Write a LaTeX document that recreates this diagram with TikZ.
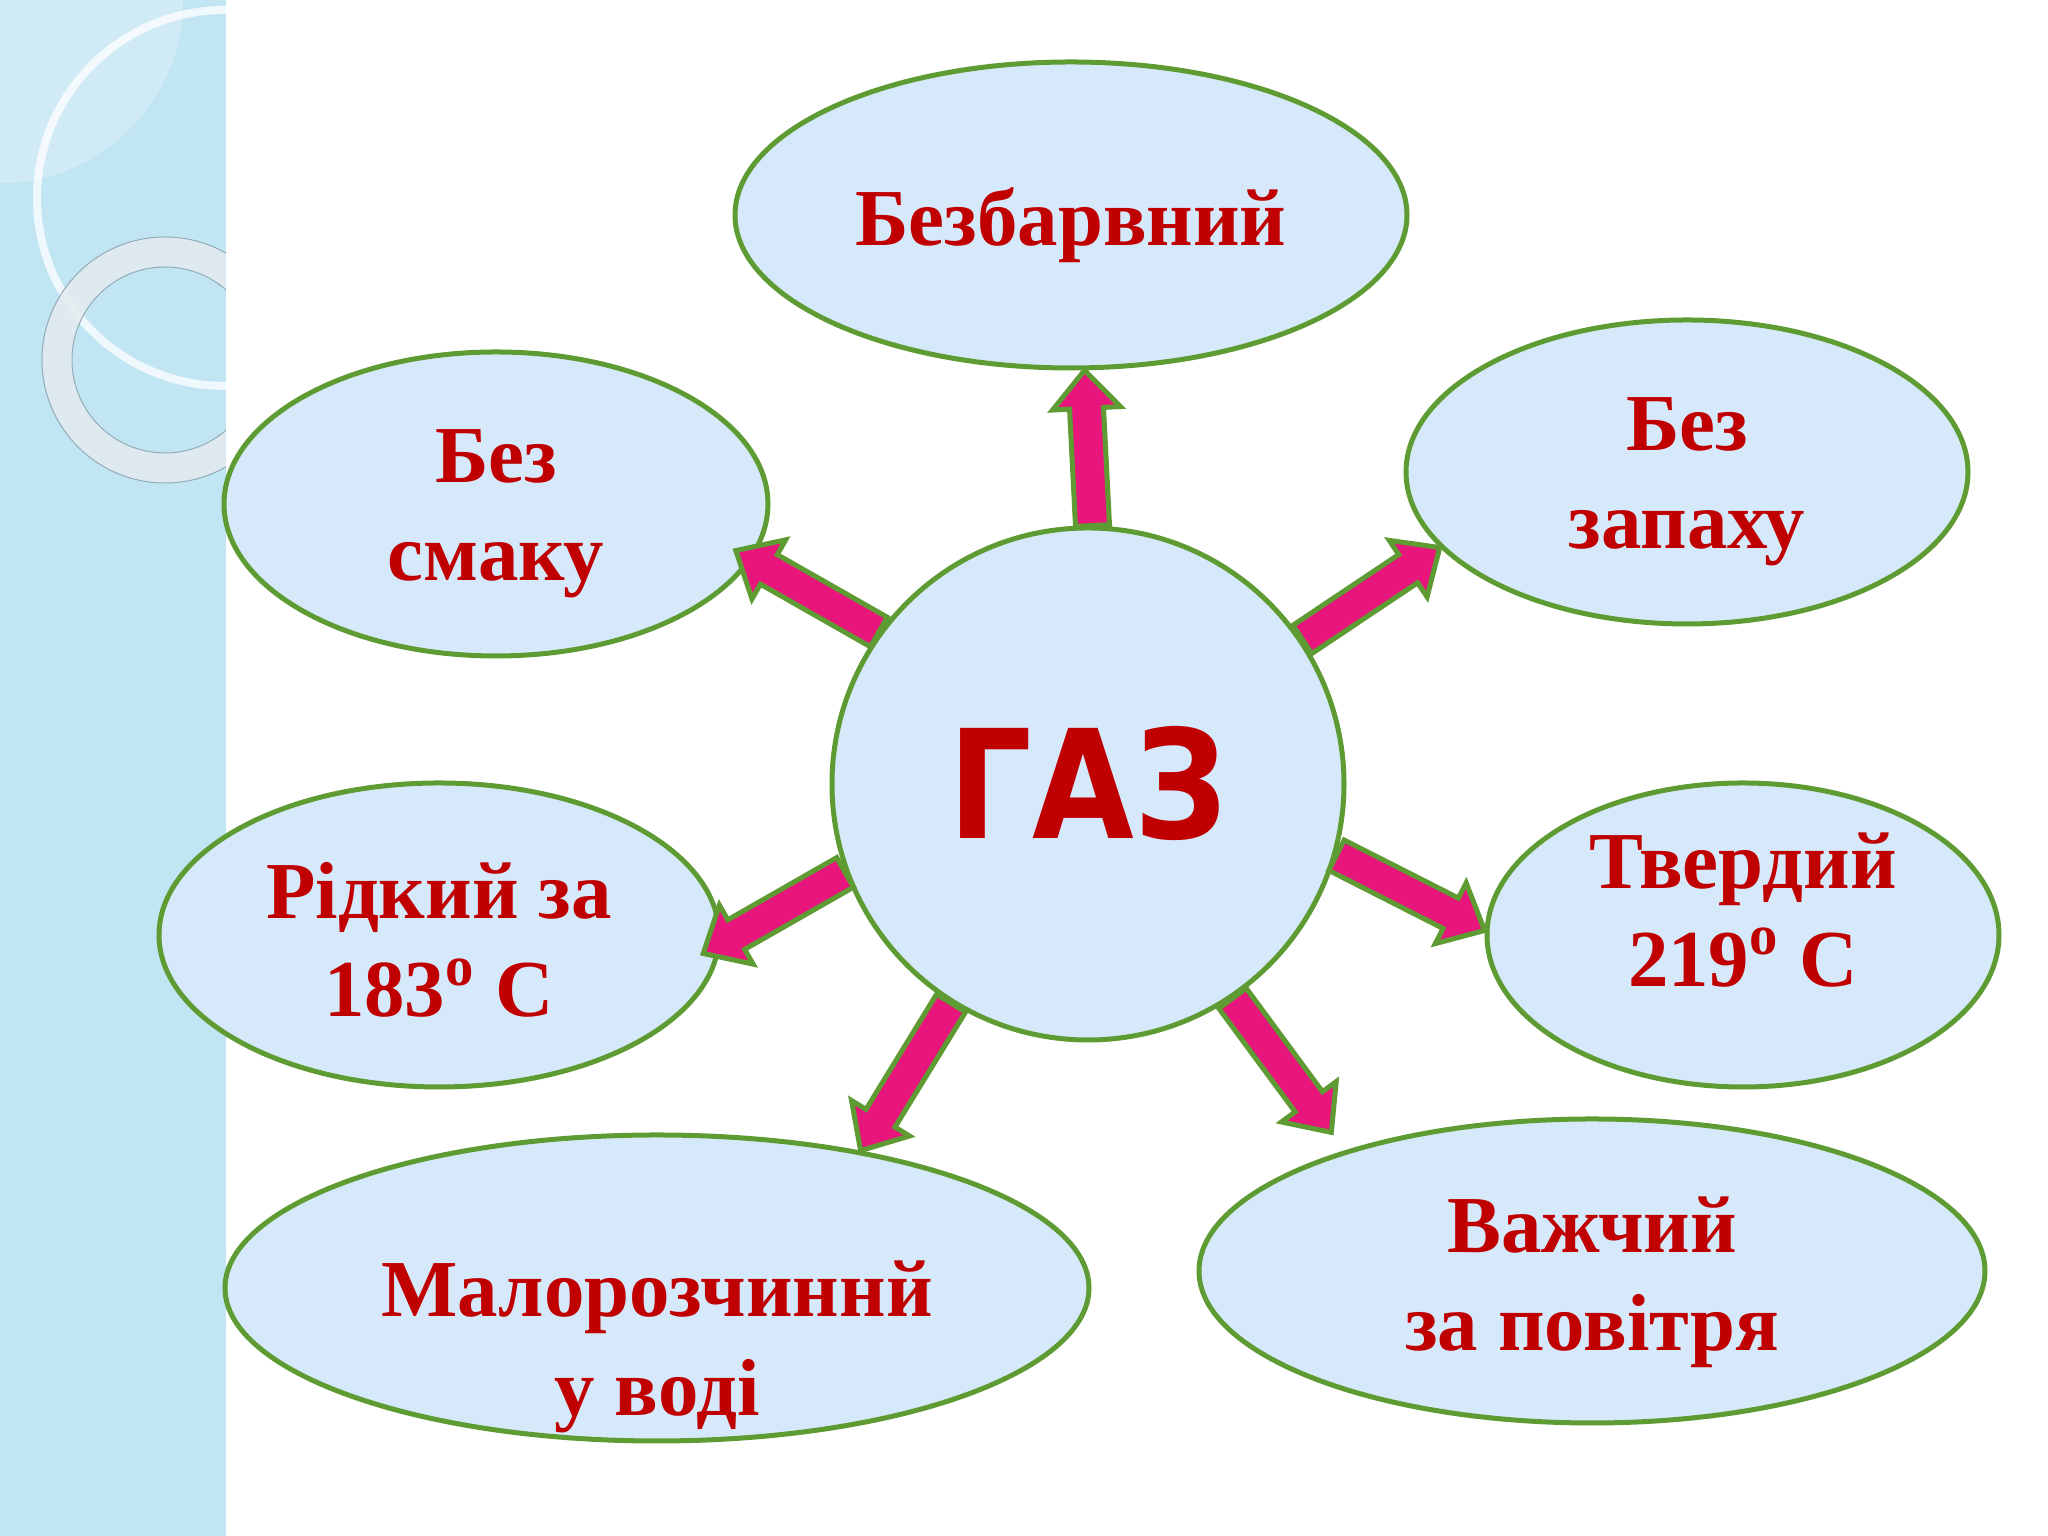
\documentclass[tikz,border=0pt]{standalone}
\usepackage{fontspec}
\setmainfont{Liberation Serif}
\newfontfamily\gasfont[FakeStretch=0.87]{DejaVu Sans}
\usepackage{tikz}
\usetikzlibrary{shapes.geometric,calc}
\definecolor{ovalfill}{HTML}{D6E9FA}
\definecolor{ovalline}{HTML}{5E9B32}
\definecolor{textred}{HTML}{C00000}
\definecolor{arrowpink}{HTML}{E8167C}
\definecolor{panelblue}{HTML}{C2E5F4}
\definecolor{ringgray}{HTML}{E4ECF0}
\tikzset{
    prop-text/.style = {align=center, text=textred, font=\fontsize{23}{28}\selectfont\bfseries},
    prop-oval/.style = {draw=ovalline, fill=ovalfill, line width=0.05cm, ellipse, inner sep=0pt},
    gas-circle/.style = {draw=ovalline, fill=ovalfill, line width=0.05cm, circle, inner sep=0pt, minimum size=5.12cm, text=textred, font=\gasfont\bfseries\fontsize{43}{50}\selectfont},
    prop-arrow/.style = {draw=ovalline, fill=arrowpink, line width=0.05cm, line join=miter},
}
\newcommand{\shaftw}{0.17cm}
\newcommand{\headw}{0.34cm}
\newcommand{\headlen}{0.38cm}
\newcommand{\gasarrow}[2]{%
    \coordinate (s) at (#1);
    \coordinate (e) at (#2);
    \coordinate (b) at ($(e)!\headlen!(s)$);
    \draw[prop-arrow] ($(s)!\shaftw!-90:(e)$) -- ($(b)!\shaftw!-90:(e)$) -- ($(b)!\headw!-90:(e)$) -- (e)
        -- ($(b)!\headw!90:(e)$) -- ($(b)!\shaftw!90:(e)$) -- ($(s)!\shaftw!90:(e)$) -- cycle;
}

\begin{document}
\begin{tikzpicture}
\useasboundingbox (0,0) rectangle (20.48,15.36);
\fill[white] (0,0) rectangle (20.48,15.36);

% side panel
\begin{scope}
    \clip (0,0) rectangle (2.26,15.36);
    \fill[panelblue] (0,0) rectangle (2.26,15.36);
    \fill[white, opacity=0.25] (0,15.36) -- (1.83,15.36) arc[start angle=0, end angle=-90, radius=1.83] -- cycle;
    \draw[white, opacity=0.75, line width=0.08cm] (2.25,13.38) circle[radius=1.88];
    \draw[ringgray, opacity=0.85, line width=0.30cm] (1.65,11.76) circle[radius=1.08];
    \draw[black!25!panelblue, line width=0.01cm] (1.65,11.76) circle[radius=0.93];
    \draw[black!25!panelblue, line width=0.01cm] (1.65,11.76) circle[radius=1.23];
\end{scope}

\node[gas-circle] (gas) at (10.88,7.52) {ГАЗ};
\node[prop-oval, minimum width=6.72cm, minimum height=3.06cm,
      label={[prop-text, yshift=-0.10cm]center:{Безбарвний}}] (colour) at (10.71,13.21) {};
\node[prop-oval, minimum width=5.44cm, minimum height=3.04cm,
      label={[prop-text, yshift=-0.10cm]center:{Без\\смаку}}] (taste) at (4.96,10.32) {};
\node[prop-oval, minimum width=5.62cm, minimum height=3.04cm,
      label={[prop-text, yshift=-0.10cm]center:{Без\\запаху}}] (smell) at (16.87,10.64) {};
\node[prop-oval, minimum width=5.60cm, minimum height=3.04cm,
      label={[prop-text, yshift=-0.05cm]center:{Рідкий за\\183\textsuperscript{o} C}}] (liquid) at (4.39,6.01) {};
\node[prop-oval, minimum width=5.12cm, minimum height=3.04cm,
      label={[prop-text, yshift=0.25cm]center:{Твердий\\219\textsuperscript{o} C}}] (solid) at (17.43,6.01) {};
\node[prop-oval, minimum width=8.64cm, minimum height=3.06cm,
      label={[prop-text, yshift=-0.59cm]center:{Малорозчиннй\\у воді}}] (solub) at (6.57,2.48) {};
\node[prop-oval, minimum width=7.86cm, minimum height=3.04cm,
      label={[prop-text, yshift=-0.11cm]center:{Важчий\\за повітря}}] (heavy) at (15.92,2.65) {};

% arrows from the gas
\gasarrow{gas.89}{colour.-85}
\gasarrow{gas.144}{$(taste.-11)!0.2cm!(taste.center)$}
\gasarrow{gas.34}{smell.197}
\gasarrow{gas.200}{$(liquid.-4)!0.16cm!(liquid.center)$}
\gasarrow{gas.-16}{solid.179}
\gasarrow{gas.238}{solub.34}
\gasarrow{gas.-56}{$(heavy.152)!-0.3cm!(heavy.center)$}
\end{tikzpicture}
\end{document}
